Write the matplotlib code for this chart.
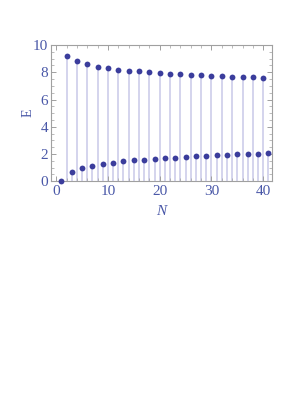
import matplotlib
matplotlib.use("Agg")
import matplotlib.pyplot as plt
from matplotlib.ticker import MultipleLocator

# Data
n_upper = [2, 4, 6, 8, 10, 12, 14, 16, 18, 20, 22, 24, 26, 28, 30, 32, 34, 36, 38, 40]
e_upper = [9.21, 8.82, 8.58, 8.40, 8.31, 8.19, 8.11, 8.06, 7.99, 7.94,
           7.89, 7.84, 7.80, 7.79, 7.74, 7.72, 7.67, 7.65, 7.65, 7.60]
n_lower = [1, 3, 5, 7, 9, 11, 13, 15, 17, 19, 21, 23, 25, 27, 29, 31, 33, 35, 37, 39, 41]
e_lower = [0.0, 0.68, 0.95, 1.15, 1.27, 1.37, 1.47, 1.54, 1.59, 1.64, 1.72,
           1.74, 1.81, 1.86, 1.89, 1.94, 1.96, 2.01, 2.01, 2.03, 2.06]
x_ticks = [0, 10, 20, 30, 40]
y_ticks = [0, 2, 4, 6, 8, 10]

label_color = "#4a58a8"
point_color = "#3b3d9c"
stem_color = "#c9c9e8"
frame_color = "#a0a0a0"

fig = plt.figure(figsize=(2.91, 4.11), dpi=100)
ax = fig.add_axes([0.1753, 0.5589, 0.7595, 0.3316])

for n, e in zip(n_upper + n_lower, e_upper + e_lower):
    ax.vlines(n, 0, e, color=stem_color, lw=1.1, zorder=1)
ax.plot(n_upper, e_upper, "o", color=point_color, ms=4.2, mec="none", zorder=3)
ax.plot(n_lower, e_lower, "o", color=point_color, ms=4.2, mec="none", zorder=3, clip_on=False)

ax.set_xlim(-1.0, 41.7)
ax.set_ylim(0, 10)
ax.set_xticks(x_ticks)
ax.set_yticks(y_ticks)
ax.xaxis.set_minor_locator(MultipleLocator(2))
ax.yaxis.set_minor_locator(MultipleLocator(0.5))

for s in ax.spines.values():
    s.set_color(frame_color)
    s.set_linewidth(0.8)

serif = ["Liberation Serif", "DejaVu Serif"]
ax.tick_params(which="both", direction="in", top=True, right=True,
               color=frame_color, labelcolor=label_color, labelsize=11)
ax.tick_params(which="major", length=3.5, width=0.7)
ax.tick_params(which="minor", length=2, width=0.5)
ax.tick_params(axis="x", pad=3)
ax.tick_params(axis="y", pad=2)
for lab in ax.get_xticklabels() + ax.get_yticklabels():
    lab.set_fontfamily(serif)

ax.set_xlabel("N", fontfamily=serif, fontstyle="italic", fontsize=11,
              color=label_color, labelpad=5)
ax.set_ylabel("E", fontfamily=serif, fontsize=10, color=label_color, labelpad=-1)

fig.savefig("out.png", dpi=100)
